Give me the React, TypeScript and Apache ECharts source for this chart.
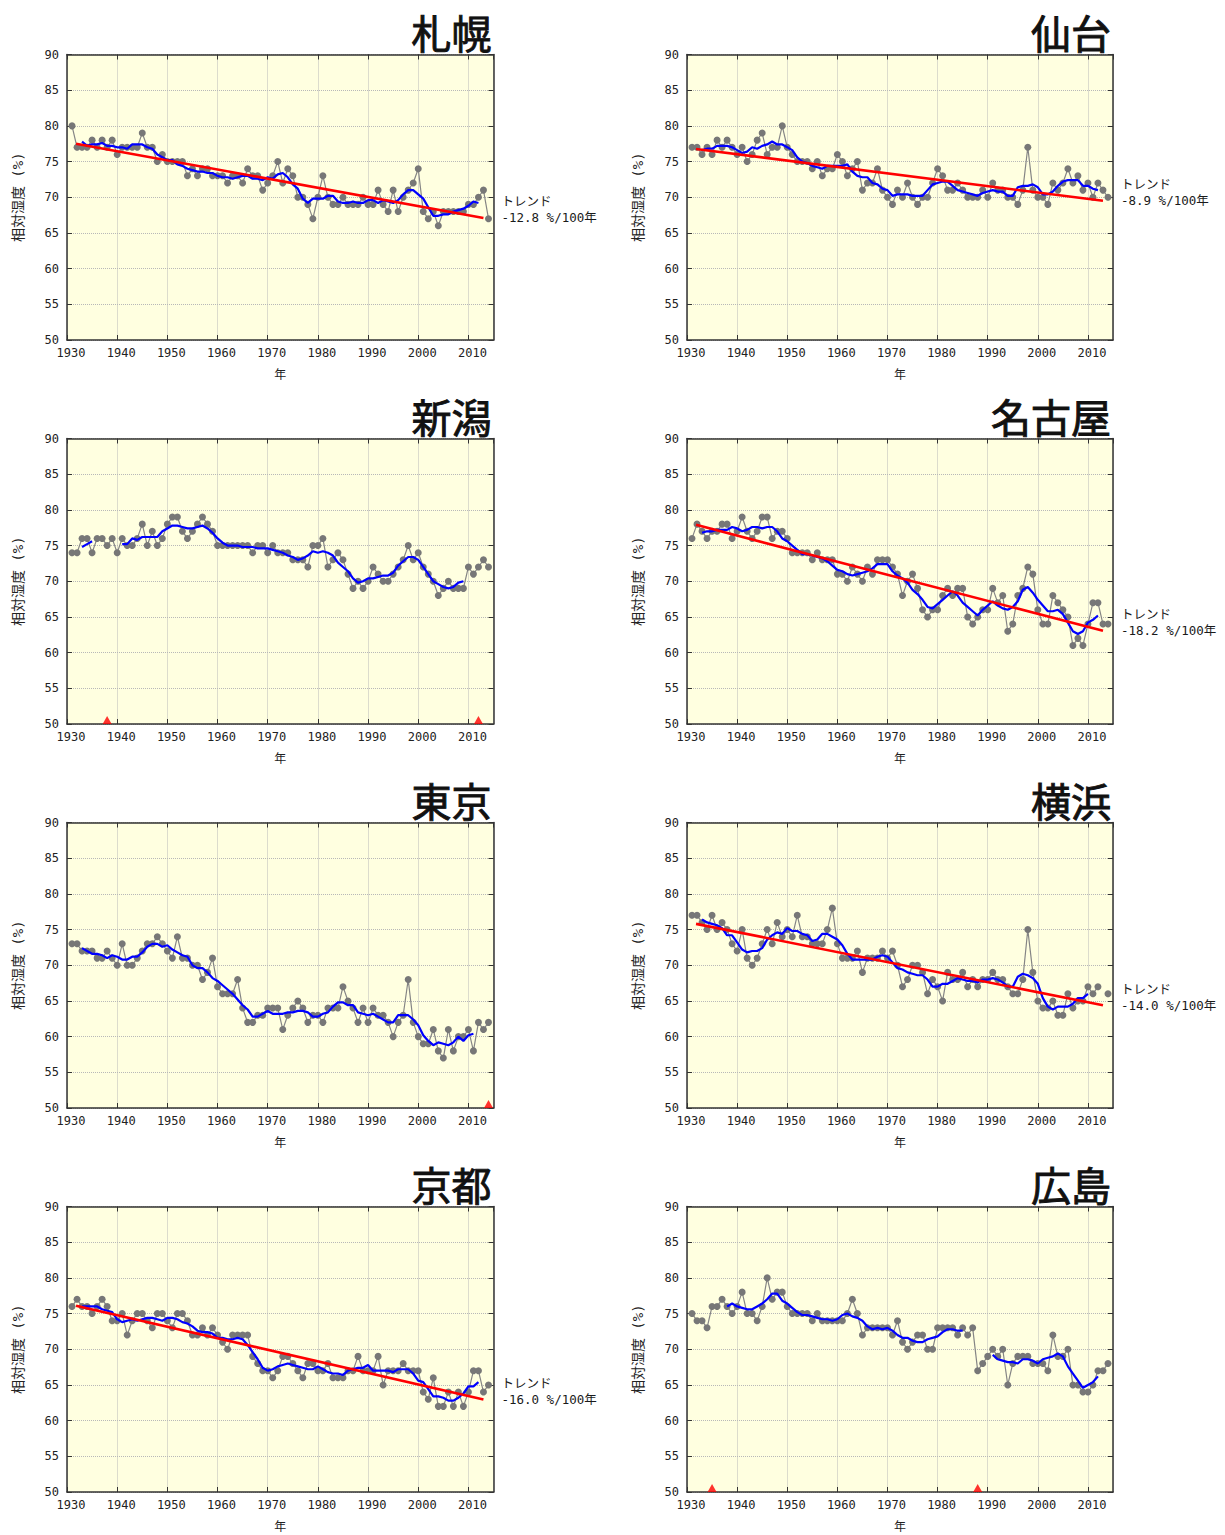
import React, { useEffect, useRef } from 'react';
import * as echarts from 'echarts';

// Annual mean relative humidity (%), 1931–2014
const FIRST_YEAR = 1931;
const X_MIN = 1930;
const X_MAX = 2015;
const Y_MIN = 50;
const Y_MAX = 90;

const sapporo = [80,77,77,77,78,77,78,77,78,76, 77,77,77,77,79,77,77,75,76,75, 75,75,75,73,74,73,74,74,73,73, 73,72,73,73,72,74,73,73,71,72, 73,75,72,74,73,70,70,69,67,70, 73,70,69,69,70,69,69,69,70,69, 69,71,69,68,71,68,70,71,72,74, 68,67,68,66,68,68,68,68,68,69, 69,70,71,67];
const sendai = [77,77,76,77,76,78,77,78,77,76, 77,75,76,78,79,76,77,77,80,77, 76,75,75,75,74,75,73,74,74,76, 75,73,74,75,71,72,72,74,71,70, 69,71,70,72,70,69,70,70,72,74, 73,71,71,72,71,70,70,70,71,70, 72,71,71,70,70,69,71,77,71,70, 70,69,72,71,72,74,72,73,71,72, 70,72,71,70];
const niigata = [74,74,76,76,74,76,76,75,76,74, 76,75,75,76,78,75,77,75,76,78, 79,79,77,76,77,78,79,78,77,75, 75,75,75,75,75,75,74,75,75,74, 75,74,74,74,73,73,73,72,75,75, 76,72,73,74,73,71,69,70,69,70, 72,71,70,70,71,72,73,75,73,74, 72,71,70,68,69,70,69,69,69,72, 71,72,73,72];
const nagoya = [76,78,77,76,77,77,78,78,76,77, 79,77,76,77,79,79,76,77,77,76, 74,74,74,74,73,74,73,73,73,71, 71,70,72,71,70,72,71,73,73,73, 72,71,68,70,71,69,66,65,66,66, 68,69,68,69,69,65,64,65,66,66, 69,67,68,63,64,68,69,72,71,66, 64,64,68,67,66,65,61,62,61,64, 67,67,64,64];
const tokyo = [73,73,72,72,72,71,71,72,71,70, 73,70,70,71,72,73,73,74,73,72, 71,74,71,71,70,70,68,69,71,67, 66,66,66,68,64,62,62,63,63,64, 64,64,61,63,64,65,64,62,63,63, 62,64,64,64,67,65,64,62,64,62, 64,63,63,62,60,62,63,68,62,60, 59,59,61,58,57,61,58,60,60,61, 58,62,61,62];
const yokohama = [77,77,76,75,77,75,76,75,73,72, 75,71,70,71,73,75,73,76,74,75, 74,77,74,74,73,73,73,75,78,73, 71,71,71,72,69,71,71,71,72,71, 72,70,67,68,70,70,69,66,68,67, 65,69,68,68,69,67,68,67,68,68, 69,68,68,67,66,66,68,75,69,65, 64,64,65,63,63,66,64,65,65,67, 66,67,null,66];
const kyoto = [76,77,76,76,75,76,77,76,74,74, 75,72,74,75,75,74,73,75,75,74, 73,75,75,74,72,72,73,72,73,72, 71,70,72,72,72,72,69,68,67,67, 66,67,69,69,68,67,66,68,68,67, 67,68,66,66,66,67,67,69,67,67, 67,69,65,67,67,67,68,67,67,67, 64,63,66,62,62,64,62,64,62,64, 67,67,64,65];
const hiroshima = [75,74,74,73,76,76,77,76,75,76, 78,75,75,74,76,80,77,78,78,76, 75,75,75,75,74,75,74,74,74,74, 74,75,77,75,72,73,73,73,73,73, 72,74,71,70,71,72,72,70,70,73, 73,73,73,72,73,72,73,67,68,69, 70,69,70,65,68,69,69,69,68,68, 68,67,72,69,69,70,65,65,64,64, 65,67,67,68];

// Station relocation years (red triangles)
const relocNiigata = [1938, 2012];
const relocTokyo = [2014];
const relocHiroshima = [1935, 1988];

// Trend lines: [year, value] at both ends
const trendSapporo = [[1931.8, 77.5], [2013, 67.1]];
const trendSendai = [[1931.8, 76.76], [2013, 69.5]];
const trendNagoya = [[1931.8, 77.9], [2013, 63.05]];
const trendYokohama = [[1931.8, 75.8], [2013, 64.4]];
const trendKyoto = [[1931.8, 76.1], [2013, 62.96]];

const trendTextSapporo = '-12.8 %/100年';
const trendTextSendai = '-8.9 %/100年';
const trendTextNagoya = '-18.2 %/100年';
const trendTextYokohama = '-14.0 %/100年';
const trendTextKyoto = '-16.0 %/100年';

const panels = [
  { name: '札幌', values: sapporo, reloc: [], trend: trendSapporo, trendText: trendTextSapporo },
  { name: '仙台', values: sendai, reloc: [], trend: trendSendai, trendText: trendTextSendai },
  { name: '新潟', values: niigata, reloc: relocNiigata, trend: null, trendText: '' },
  { name: '名古屋', values: nagoya, reloc: [], trend: trendNagoya, trendText: trendTextNagoya },
  { name: '東京', values: tokyo, reloc: relocTokyo, trend: null, trendText: '' },
  { name: '横浜', values: yokohama, reloc: [], trend: trendYokohama, trendText: trendTextYokohama },
  { name: '京都', values: kyoto, reloc: [], trend: trendKyoto, trendText: trendTextKyoto },
  { name: '広島', values: hiroshima, reloc: relocHiroshima, trend: null, trendText: '' },
];

const MONO = "'DejaVu Sans Mono', 'Noto Sans CJK JP', monospace";

// 5-year centred running mean, not bridging relocations or missing years
function runningMean(values: (number | null)[], reloc: number[]) {
  const n = values.length;
  return values.map((_, i) => {
    if (i < 2 || i > n - 3) return null;
    let s = 0;
    for (let k = i - 2; k <= i + 2; k++) {
      const v = values[k];
      if (v == null || reloc.includes(FIRST_YEAR + k)) return null;
      s += v;
    }
    return s / 5;
  });
}

function buildOption() {
  const grids: any[] = [];
  const xAxes: any[] = [];
  const yAxes: any[] = [];
  const series: any[] = [];
  const graphics: any[] = [];

  panels.forEach((p, idx) => {
    const col = idx % 2;
    const row = Math.floor(idx / 2);
    const left = col === 0 ? 67 : 687;
    const width = col === 0 ? 426.5 : 426;
    const top = 54.5 + 384 * row;
    const height = 285.5;
    grids.push({ left, top, width, height, show: true, backgroundColor: '#ffffe0', borderWidth: 0 });

    const axisLine = { show: true, onZero: false, lineStyle: { color: '#333', width: 1.5 } };
    const axisTick = { show: true, inside: true, length: 5, lineStyle: { color: '#333', width: 1 } };
    const splitLine = { show: true, lineStyle: { type: 'dotted', color: '#b8b8b8', width: 1 } };

    xAxes.push({
      gridIndex: idx, type: 'value', min: X_MIN, max: X_MAX, interval: 10, position: 'bottom',
      axisLine, axisTick, splitLine,
      axisLabel: {
        show: true, showMaxLabel: false, margin: 7, fontSize: 12, color: '#222', fontFamily: MONO,
        padding: [0, 0, 0, 8], formatter: (v: number) => String(v),
      },
      name: '年', nameLocation: 'middle', nameGap: 29,
      nameTextStyle: { fontSize: 12, color: '#222', fontFamily: MONO },
    });
    xAxes.push({
      gridIndex: idx, type: 'value', min: X_MIN, max: X_MAX, interval: 10, position: 'top',
      axisLine, axisTick, axisLabel: { show: false }, splitLine: { show: false },
    });
    yAxes.push({
      gridIndex: idx, type: 'value', min: Y_MIN, max: Y_MAX, interval: 5, position: 'left',
      axisLine, axisTick, splitLine,
      axisLabel: { show: true, margin: 8, fontSize: 12, color: '#222', fontFamily: MONO },
      name: '相対湿度 (%)', nameLocation: 'middle', nameGap: 42,
      nameTextStyle: { fontSize: 14, color: '#222', fontFamily: MONO },
    });
    yAxes.push({
      gridIndex: idx, type: 'value', min: Y_MIN, max: Y_MAX, interval: 5, position: 'right',
      axisLine, axisTick, axisLabel: { show: false }, splitLine: { show: false },
    });

    const ax = { xAxisIndex: idx * 2, yAxisIndex: idx * 2 };

    series.push({
      type: 'line', ...ax, name: p.name + '年平均',
      data: p.values.map((v, i) => [FIRST_YEAR + i, v == null ? '-' : v]),
      symbol: 'circle', symbolSize: 7, showSymbol: true, connectNulls: false,
      lineStyle: { color: '#858585', width: 1.2 },
      itemStyle: { color: '#777777' },
      z: 2,
    });

    const rm = runningMean(p.values, p.reloc);
    series.push({
      type: 'line', ...ax, name: p.name + '5年移動平均',
      data: rm.map((v, i) => [FIRST_YEAR + i, v == null ? '-' : v]),
      symbol: 'none', connectNulls: false,
      lineStyle: { color: '#0000ff', width: 2.2 },
      z: 3,
    });

    if (p.trend) {
      series.push({
        type: 'line', ...ax, name: p.name + 'トレンド',
        data: p.trend,
        symbol: 'none',
        lineStyle: { color: '#ff0000', width: 2.6 },
        z: 4,
        endLabel: {
          show: true,
          formatter: 'トレンド\n' + p.trendText,
          distance: 18,
          offset: [0, -8],
          fontSize: 12.5,
          lineHeight: 16,
          color: '#1a1a1a',
          fontFamily: MONO,
          align: 'left',
        },
      });
    }

    if (p.reloc.length) {
      series.push({
        type: 'scatter', ...ax, name: p.name + '移転',
        data: p.reloc.map((y) => [y, Y_MIN]),
        symbol: 'triangle', symbolSize: [9, 8], symbolOffset: [0, -4],
        itemStyle: { color: '#ff0000' },
        clip: false, z: 6,
      });
    }

    graphics.push({
      type: 'text',
      x: left + width - 2,
      y: 32 + 384 * row,
      style: {
        text: p.name,
        font: "40px 'Noto Sans CJK JP', sans-serif",
        fill: '#111',
        stroke: '#111',
        lineWidth: 0.9,
        textAlign: 'right',
        textVerticalAlign: 'middle',
      },
    });
  });

  return {
    animation: false,
    backgroundColor: '#ffffff',
    grid: grids,
    xAxis: xAxes,
    yAxis: yAxes,
    series,
    graphic: graphics,
  };
}

export default function App() {
  const ref = useRef<HTMLDivElement>(null);
  useEffect(() => {
    if (!ref.current) return;
    const chart = echarts.init(ref.current, undefined, { renderer: 'svg' });
    chart.setOption(buildOption() as any);
    return () => chart.dispose();
  }, []);
  return (
    <div
      ref={ref}
      style={{ position: 'absolute', left: 0, top: 0, width: 1225, height: 1535 }}
    />
  );
}
